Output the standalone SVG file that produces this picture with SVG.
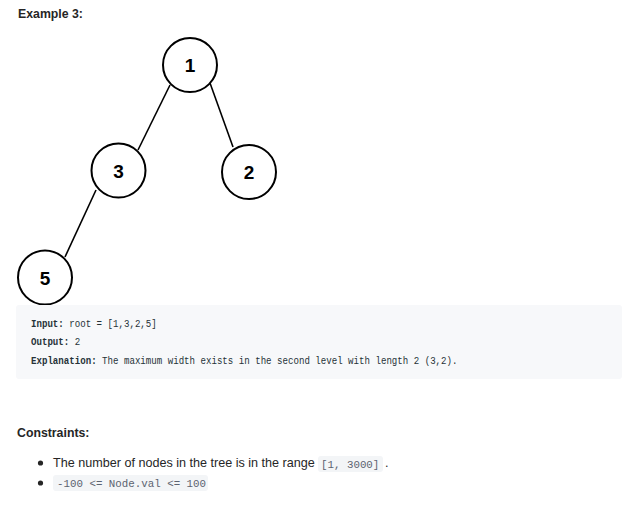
<svg xmlns="http://www.w3.org/2000/svg" width="622" height="515" viewBox="0 0 622 515">
<style>
.node circle{fill:#fff;stroke:#000;stroke-width:2}
.node text{font-family:"Liberation Sans",Arial,sans-serif;font-weight:bold;font-size:19px;fill:#000;text-anchor:middle}
.edge{stroke:#000;stroke-width:1.6;fill:none}
.h{font-family:"Liberation Sans",Arial,sans-serif;font-weight:bold;font-size:12.3px;fill:#262626}
.code{font-family:"Liberation Mono","DejaVu Sans Mono",monospace;font-size:10.5px;fill:#263238}
.code .b{font-weight:bold}
.body{font-family:"Liberation Sans",Arial,sans-serif;font-size:12.6px;fill:#262626}
.pill{fill:#f3f5f7}
.ic{font-family:"Liberation Mono","DejaVu Sans Mono",monospace;font-size:10.8px;fill:#5c6370}
</style>
<rect width="622" height="515" fill="#fff"/>
<text class="h" x="18" y="18">Example 3:</text>
<g id="edges">
<line class="edge" x1="170" y1="85" x2="138" y2="150"/>
<line class="edge" x1="210" y1="83" x2="233" y2="147"/>
<line class="edge" x1="96" y1="190" x2="65" y2="257"/>
</g>
<g id="node1" class="node"><circle cx="190" cy="65" r="27"/><text x="190" y="72">1</text></g>
<g id="node3" class="node"><circle cx="118.5" cy="170.5" r="27"/><text x="118.5" y="177.5">3</text></g>
<g id="node2" class="node"><circle cx="249" cy="172" r="27"/><text x="249" y="179">2</text></g>
<g id="node5" class="node"><circle cx="45" cy="277.5" r="27"/><text x="45" y="284.5">5</text></g>
<rect x="16" y="305" width="606" height="74" rx="3" fill="#f7f8fa"/>
<g class="code" transform="translate(31 0) scale(0.868 1)">
<text x="0" y="327.5"><tspan class="b">Input:</tspan> root = [1,3,2,5]</text>
<text x="0" y="345.5"><tspan class="b">Output:</tspan> 2</text>
<text x="0" y="364"><tspan class="b">Explanation:</tspan> The maximum width exists in the second level with length 2 (3,2).</text>
</g>
<text class="h" x="17" y="437">Constraints:</text>
<circle cx="40.5" cy="463" r="2.6" fill="#262626"/>
<circle cx="40.5" cy="483" r="2.6" fill="#262626"/>
<text class="body" x="53" y="467">The number of nodes in the tree is in the range</text>
<rect class="pill" x="318" y="456" width="65" height="16" rx="3"/>
<text class="ic" x="321" y="468">[1, 3000]</text>
<text class="body" x="385" y="467">.</text>
<rect class="pill" x="53" y="475" width="155" height="16" rx="3"/>
<text class="ic" x="57" y="487">-100 &lt;= Node.val &lt;= 100</text>
</svg>
